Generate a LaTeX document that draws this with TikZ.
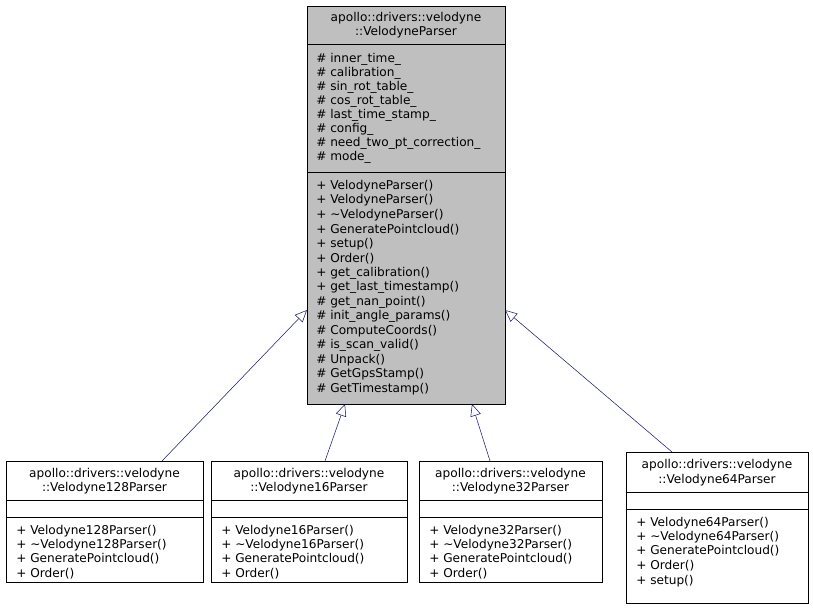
\documentclass[tikz,border=0pt]{standalone}
\usepackage{fontspec}
\setmainfont{DejaVu Sans}
\usetikzlibrary{arrows.meta}
\definecolor{edgeblue}{HTML}{191970}
\definecolor{basegray}{HTML}{BFBFBF}
\begin{document}
\begin{tikzpicture}[x=0.75pt,y=-0.75pt]

    \tikzset{
      box/.style={draw,thin,inner sep=0pt},
      item/.style={anchor=west,inner sep=0pt,font=\fontsize{9.1}{10}\selectfont},
      title/.style={anchor=center,inner sep=0pt,font=\fontsize{9.1}{10}\selectfont},
      inherit/.style={draw=edgeblue,thin,-{Triangle[open,length=9pt,width=8pt]}},
    }
    \useasboundingbox (0,0) rectangle (813,609);

	% base class
	\draw[box,fill=basegray] (307,6) rectangle (505,404);
	\draw (307,44)--(505,44);
	\draw (307,172)--(505,172);
	\node[title] (t0a) at (406,18) {apollo::drivers::velodyne};
	\node[title] (t0b) at (406,32) {::VelodyneParser};
	\foreach \s [count=\i from 0] in {\# inner\_time\_,\# calibration\_,\# sin\_rot\_table\_,\# cos\_rot\_table\_,\# last\_time\_stamp\_,\# config\_,\# need\_two\_pt\_correction\_,\# mode\_}
	  \node[item] (a\i) at (316,59+14*\i) {\s};
	\foreach \s [count=\i from 0] in {+ VelodyneParser(),+ VelodyneParser(),+ \textasciitilde VelodyneParser(),+ GeneratePointcloud(),+ setup(),+ Order(),+ get\_calibration(),+ get\_last\_timestamp(),\# get\_nan\_point(),\# init\_angle\_params(),\# ComputeCoords(),\# is\_scan\_valid(),\# Unpack(),\# GetGpsStamp(),\# GetTimestamp()}
	  \node[item] (m\i) at (316,186+14.5*\i) {\s};

	% derived classes
	\foreach \l/\r/\n [count=\k] in {6/203/128,211/407/16,419/602/32}{
	  \draw[box] (\l,461) rectangle (\r,582);
	  \draw (\l,500)--(\r,500);
	  \draw (\l,517)--(\r,517);
	  \node[title] at ({(\l+\r)/2},474) {apollo::drivers::velodyne};
	  \node[title] at ({(\l+\r)/2},488) {::Velodyne\n Parser};
	  \node[item] at (\l+10,531) {+ Velodyne\n Parser()};
	  \node[item] at (\l+10,545) {+ \textasciitilde Velodyne\n Parser()};
	  \node[item] at (\l+10,559) {+ GeneratePointcloud()};
	  \node[item] at (\l+10,574) {+ Order()};
	}
	\draw[box] (626,452) rectangle (808,603);
	\draw (626,492)--(808,492);
	\draw (626,509)--(808,509);
	\node[title] at (717,465) {apollo::drivers::velodyne};
	\node[title] at (717,480) {::Velodyne64Parser};
	\node[item] at (636,523) {+ Velodyne64Parser()};
	\node[item] at (636,537) {+ \textasciitilde Velodyne64Parser()};
	\node[item] at (636,551) {+ GeneratePointcloud()};
	\node[item] at (636,566) {+ Order()};
	\node[item] at (636,581) {+ setup()};

	% inheritance
	\coordinate (c1) at (162,461);
	\coordinate (c2) at (325,461);
	\coordinate (c3) at (490,461);
	\coordinate (c4) at (672,452);
	\coordinate (p1) at (307,310);
	\coordinate (p2) at (345,404);
	\coordinate (p3) at (472,404);
	\coordinate (p4) at (505,310);
	\draw[inherit] (c1)--(p1);
	\draw[inherit] (c2)--(p2);
	\draw[inherit] (c3)--(p3);
	\draw[inherit] (c4)--(p4);

\end{tikzpicture}
\end{document}
